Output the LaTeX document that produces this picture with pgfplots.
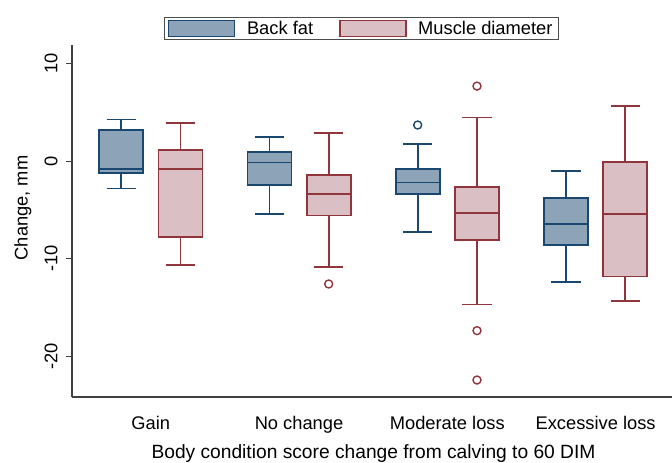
\documentclass[border=0pt]{standalone}
\usepackage{fontspec}
\setmainfont{Liberation Sans}
\usepackage{pgfplots}
\pgfplotsset{compat=1.18}
\usepgfplotslibrary{statistics}
\definecolor{navy}{RGB}{26,71,111}
\definecolor{navyfill}{RGB}{141,163,184}
\definecolor{maroon}{RGB}{144,53,59}
\definecolor{pinkfill}{RGB}{218,191,196}
\newcommand{\fs}{\fontsize{18.3}{22}\selectfont}
\newcommand{\fl}{\fontsize{19.2}{23}\selectfont}
\begin{document}
\begin{tikzpicture}
\begin{axis}[
  scale only axis, width=600pt, height=352pt,
  xmin=0.469, xmax=4.515, ymin=-24.18, ymax=11.89,
  axis x line*=bottom, axis y line*=left,
  axis line style={black!75, line width=1.2pt, -},
  xtick={1,2,3,4},
  xticklabels={Gain, No change, Moderate loss, Excessive loss},
  xtick style={draw=none},
  xticklabel style={yshift=-10pt},
  ytick={-20,-10,0,10},
  tick align=outside, major tick length=6pt,
  ytick style={black!75, line width=1pt},
  yticklabel style={rotate=90, anchor=south},
  yticklabel shift=5pt,
  /pgf/number format/assume math mode=true,
  tick label style={font=\fs},
  label style={font=\fs},
  xlabel={Body condition score change from calving to 60 DIM},
  ylabel={Change, mm},
  xlabel style={at={(axis description cs:0.5025,-0.162)}, anchor=center, font=\fl},
  ylabel style={at={(axis description cs:-0.0817,0.537)}, anchor=center},
  boxplot/draw direction=y,
  boxplot/box extend=0.297,
  boxplot/whisker extend=0.196,
  legend style={at={(axis description cs:0.482,1.047)}, anchor=center,
    draw=black!70, line width=0.8pt, font=\fs, legend columns=2,
    inner xsep=4pt, inner ysep=2pt,
    /tikz/every even column/.append style={column sep=24pt}},
  legend cell align=left,
  legend image code/.code={\draw[#1, line width=1.4pt] (0pt,-8pt) rectangle (66pt,8pt); \path (76pt,0pt);},
  bf/.style={draw=navy, fill=navyfill, line width=1.7pt, mark=o, mark size=4pt, mark options={fill=none, line width=1.4pt}},
  md/.style={draw=maroon, fill=pinkfill, line width=1.7pt, mark=o, mark size=4pt, mark options={fill=none, line width=1.4pt}},
]
\addlegendimage{draw=navy, fill=navyfill}
\addlegendentry{Back fat}
\addlegendimage{draw=maroon, fill=pinkfill}
\addlegendentry{Muscle diameter}

% Gain
\addplot[bf, boxplot prepared={draw position=0.8, lower whisker=-2.83, lower quartile=-1.2, median=-0.82, upper quartile=3.18, upper whisker=4.27}] coordinates {};
\addplot[md, boxplot prepared={draw position=1.2, lower whisker=-10.66, lower quartile=-7.82, median=-0.85, upper quartile=1.13, upper whisker=3.93}] coordinates {};
% No change
\addplot[bf, boxplot prepared={draw position=1.8, lower whisker=-5.46, lower quartile=-2.46, median=-0.14, upper quartile=0.92, upper whisker=2.49}] coordinates {};
\addplot[md, boxplot prepared={draw position=2.2, lower whisker=-10.83, lower quartile=-5.57, median=-3.38, upper quartile=-1.4, upper whisker=2.84}] table[row sep=\\, y index=0] {y\\ -12.6\\};
% Moderate loss
\addplot[bf, boxplot prepared={draw position=2.8, lower whisker=-7.27, lower quartile=-3.35, median=-2.19, upper quartile=-0.82, upper whisker=1.71}] table[row sep=\\, y index=0] {y\\ 3.69\\};
\addplot[md, boxplot prepared={draw position=3.2, lower whisker=-14.69, lower quartile=-8.06, median=-5.33, upper quartile=-2.63, upper whisker=4.47}] table[row sep=\\, y index=0] {y\\ 7.68\\ -17.38\\ -22.44\\};
% Excessive loss
\addplot[bf, boxplot prepared={draw position=3.8, lower whisker=-12.43, lower quartile=-8.64, median=-6.42, upper quartile=-3.82, upper whisker=-0.99}] coordinates {};
\addplot[md, boxplot prepared={draw position=4.2, lower whisker=-14.31, lower quartile=-11.82, median=-5.43, upper quartile=-0.07, upper whisker=5.64}] coordinates {};

\coordinate (SW) at (rel axis cs:0,0);
\coordinate (NE) at (rel axis cs:1,1);
\end{axis}
\pgfresetboundingbox
\path[use as bounding box] ([xshift=-72pt,yshift=-66pt]SW) rectangle ([yshift=45pt]NE);
\end{tikzpicture}
\end{document}
